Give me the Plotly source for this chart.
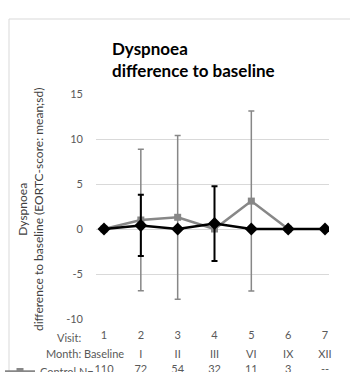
import plotly.graph_objects as go

visits = [1, 2, 3, 4, 5, 6, 7]
months = ["Baseline", "I", "II", "III", "VI", "IX", "XII"]
control_n = ["110", "72", "54", "32", "11", "3", "--"]
y_ticks = [-10, -5, 0, 5, 10, 15]
y_ticktext = ["-10", "-5", "0", "5", "10", "15"]

control_x = [1, 2, 3, 4, 5, 6]
control_mean = [0, 1.0, 1.3, 0, 3.1, 0]
control_sd = [0, 7.85, 9.1, 0, 10.0, 0]

treat_x = [1, 2, 3, 4, 5, 6, 7]
treat_mean = [0, 0.4, 0, 0.6, 0, 0, 0]
treat_sd = [0, 3.4, 0, 4.15, 0, 0, 0]

FONT = "Lato"
GRAY = "#878787"
TXT = "#595959"

# plot area in pixels: x 96..329, y 94..319
W, H = 350, 372
L, R, T, B = 96, 21, 94, 53
pw, ph = W - L - R, H - T - B

def px2x(x):
    return (x - L) / pw

def px2y(y):
    return (H - B - y) / ph

fig = go.Figure()
fig.add_trace(go.Scatter(
    x=control_x, y=control_mean, name="Control N=",
    mode="lines+markers",
    line=dict(color=GRAY, width=2.5),
    marker=dict(symbol="square", size=7, color=GRAY),
    error_y=dict(type="data", array=control_sd, color=GRAY, thickness=1.5, width=3),
    showlegend=True,
))
fig.add_trace(go.Scatter(
    x=treat_x, y=treat_mean, name="Intervention",
    mode="lines+markers",
    line=dict(color="black", width=2.5),
    marker=dict(symbol="diamond", size=10, color="black"),
    error_y=dict(type="data", array=treat_sd, color="black", thickness=2, width=3),
    showlegend=False,
))
# empty traces to instantiate the extra label rows
fig.add_trace(go.Scatter(x=[], y=[], xaxis="x2", showlegend=False, hoverinfo="skip"))
fig.add_trace(go.Scatter(x=[], y=[], xaxis="x3", showlegend=False, hoverinfo="skip"))

xr = [1 - 8 / 36.83, 7 + 4 / 36.83]
common = dict(range=xr, tickmode="array", tickvals=visits,
              showgrid=False, zeroline=False, showline=False, ticks="",
              automargin=False,
              tickfont=dict(family=FONT, size=11, color=TXT))

fig.update_layout(
    xaxis=dict(ticktext=[str(v) for v in visits], ticklabelstandoff=8, **common),
    xaxis2=dict(ticktext=months, overlaying="x", anchor="y", side="bottom",
                ticklabelstandoff=27, **common),
    xaxis3=dict(ticktext=control_n, overlaying="x", anchor="y", side="bottom",
                ticklabelstandoff=42, **common),
)
fig.update_yaxes(
    range=[-10, 15], tickmode="array", tickvals=y_ticks, ticktext=y_ticktext,
    showgrid=True, gridcolor="#d9d9d9", gridwidth=1,
    zeroline=False, showline=False, ticks="", automargin=False,
    tickfont=dict(family=FONT, size=11, color=TXT),
    ticklabelstandoff=12,
)

annotations = [
    dict(text="Dyspnoea<br>difference to baseline (EORTC-score: mean;sd)",
         textangle=-90, xref="paper", yref="paper",
         x=px2x(30), y=px2y(210), xanchor="center", yanchor="middle",
         showarrow=False, font=dict(family=FONT, size=12, color="#404040")),
    dict(text="Visit:", xref="paper", yref="paper", x=px2x(83), y=px2y(337),
         xanchor="right", yanchor="middle", showarrow=False,
         font=dict(family=FONT, size=11, color=TXT)),
    dict(text="Month:", xref="paper", yref="paper", x=px2x(83), y=px2y(353),
         xanchor="right", yanchor="middle", showarrow=False,
         font=dict(family=FONT, size=11, color=TXT)),
]

shapes = [
    dict(type="line", xref="paper", yref="paper", x0=px2x(9), x1=px2x(360),
         y0=px2y(19), y1=px2y(19), line=dict(color="#d9d9d9", width=1)),
    dict(type="line", xref="paper", yref="paper", x0=px2x(9), x1=px2x(9),
         y0=px2y(19), y1=px2y(380), line=dict(color="#d9d9d9", width=1)),
]

fig.update_layout(
    width=W, height=H,
    margin=dict(l=L, r=R, t=T, b=B, autoexpand=False),
    paper_bgcolor="white", plot_bgcolor="white",
    title=dict(text="<b>Dyspnoea<br>difference to baseline</b>",
               xref="paper", x=px2x(112), xanchor="left",
               yref="container", y=1 - 55 / H, yanchor="middle",
               font=dict(family=FONT, size=17, color="black")),
    annotations=annotations,
    shapes=shapes,
    showlegend=True,
    legend=dict(x=0 / W, y=1 - 357 / H, xanchor="left", yanchor="top",
                xref="container", yref="container",
                font=dict(family=FONT, size=11, color=TXT),
                bgcolor="rgba(0,0,0,0)", borderwidth=0,
                itemwidth=30, tracegroupgap=0),
)

fig.write_html("out.html")
